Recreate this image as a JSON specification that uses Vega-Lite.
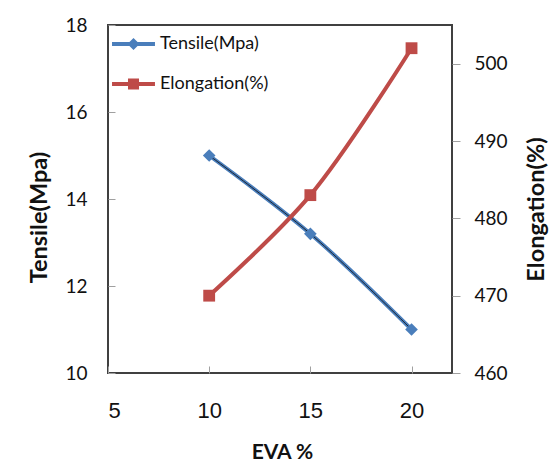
{
  "$schema": "https://vega.github.io/schema/vega-lite/v6.json",
  "width": 344,
  "height": 348,
  "autosize": {"type": "none"},
  "padding": {"left": 108, "top": 25, "right": 97, "bottom": 89},
  "background": "white",
  "config": {
    "view": {"stroke": "#404040", "strokeWidth": 2},
    "axis": {"grid": false, "domain": false, "tickColor": "#a0a0a0", "tickWidth": 1, "labelColor": "#111111", "titleColor": "#111111"}
  },
  "data": {
    "values": [
      {"eva": 10, "tensile": 15.0, "elong": 470},
      {"eva": 15, "tensile": 13.2, "elong": 483},
      {"eva": 20, "tensile": 11.0, "elong": 502}
    ]
  },
  "encoding": {
    "x": {
      "field": "eva",
      "type": "quantitative",
      "scale": {"domain": [5, 22], "nice": false, "zero": false},
      "axis": {
        "values": [5, 10, 15, 20],
        "tickSize": -7,
        "labelFont": "Liberation Sans",
        "labelFontSize": 22,
        "labelPadding": 34,
        "title": "EVA %",
        "titleFont": "Lato",
        "titleFontSize": 21,
        "titleFontWeight": "bold",
        "titleX": 174,
        "titleY": 85,
        "titleBaseline": "alphabetic"
      }
    }
  },
  "layer": [
    {
      "encoding": {
        "y": {
          "field": "tensile",
          "type": "quantitative",
          "scale": {"domain": [10, 18], "nice": false, "zero": false},
          "axis": {
            "orient": "left",
            "values": [10, 12, 14, 16, 18],
            "tickSize": -7,
            "labelFont": "Lato",
            "labelFontSize": 19,
            "labelPadding": 28,
            "title": "Tensile(Mpa)",
            "titleFont": "Lato",
            "titleFontSize": 23.5,
            "titleFontWeight": "bold",
            "titleAngle": 270,
            "titleX": -62,
            "titleY": 192,
            "titleBaseline": "alphabetic"
          }
        }
      },
      "layer": [
        {"mark": {"type": "line", "color": "#4a7ebb", "strokeWidth": 4, "interpolate": "catmull-rom"}},
        {"mark": {"type": "line", "color": "#1b2533", "strokeWidth": 1, "interpolate": "catmull-rom"}},
        {
          "mark": {"type": "point", "shape": "diamond", "filled": true, "size": 160, "opacity": 1},
          "encoding": {
            "color": {
              "datum": "Tensile(Mpa)",
              "scale": {"domain": ["Tensile(Mpa)", "Elongation(%)"], "range": ["#4a7ebb", "#be4b48"]},
              "legend": {
                "orient": "none",
                "legendX": 6.5,
                "legendY": 0,
                "title": null,
                "symbolSize": 1444,
                "symbolStrokeWidth": 0,
                "symbolOpacity": 1,
                "labelFont": "Lato",
                "labelFontSize": 18,
                "labelColor": "#111111",
                "labelOffset": 7.5,
                "rowPadding": 12,
                "padding": 0,
                "encode": {
                  "symbols": {
                    "update": {
                      "shape": {"signal": "datum.value == 'Tensile(Mpa)' ? 'M-1.13,-0.105H1.13V0.105H-1.13Z M0,-0.32L0.32,0L0,0.32L-0.32,0Z' : 'M-1.13,-0.105H1.13V0.105H-1.13Z M-0.29,-0.29H0.29V0.29H-0.29Z'"},
                      "strokeWidth": {"value": 0}
                    }
                  }
                }
              }
            }
          }
        }
      ]
    },
    {
      "encoding": {
        "y": {
          "field": "elong",
          "type": "quantitative",
          "scale": {"domain": [460, 505], "nice": false, "zero": false},
          "axis": {
            "orient": "right",
            "values": [460, 470, 480, 490, 500],
            "tickSize": 8,
            "labelFont": "Lato",
            "labelFontSize": 19,
            "labelPadding": 14,
            "title": "Elongation(%)",
            "titleFont": "Lato",
            "titleFontSize": 23.5,
            "titleFontWeight": "bold",
            "titleAngle": 270,
            "titleX": 91,
            "titleY": 184,
            "titleBaseline": "alphabetic"
          }
        }
      },
      "layer": [
        {"mark": {"type": "line", "color": "#be4b48", "strokeWidth": 4, "interpolate": "catmull-rom"}},
        {
          "mark": {"type": "point", "shape": "square", "filled": true, "size": 140, "opacity": 1},
          "encoding": {"color": {"datum": "Elongation(%)"}}
        }
      ]
    }
  ],
  "resolve": {"scale": {"y": "independent"}}
}
